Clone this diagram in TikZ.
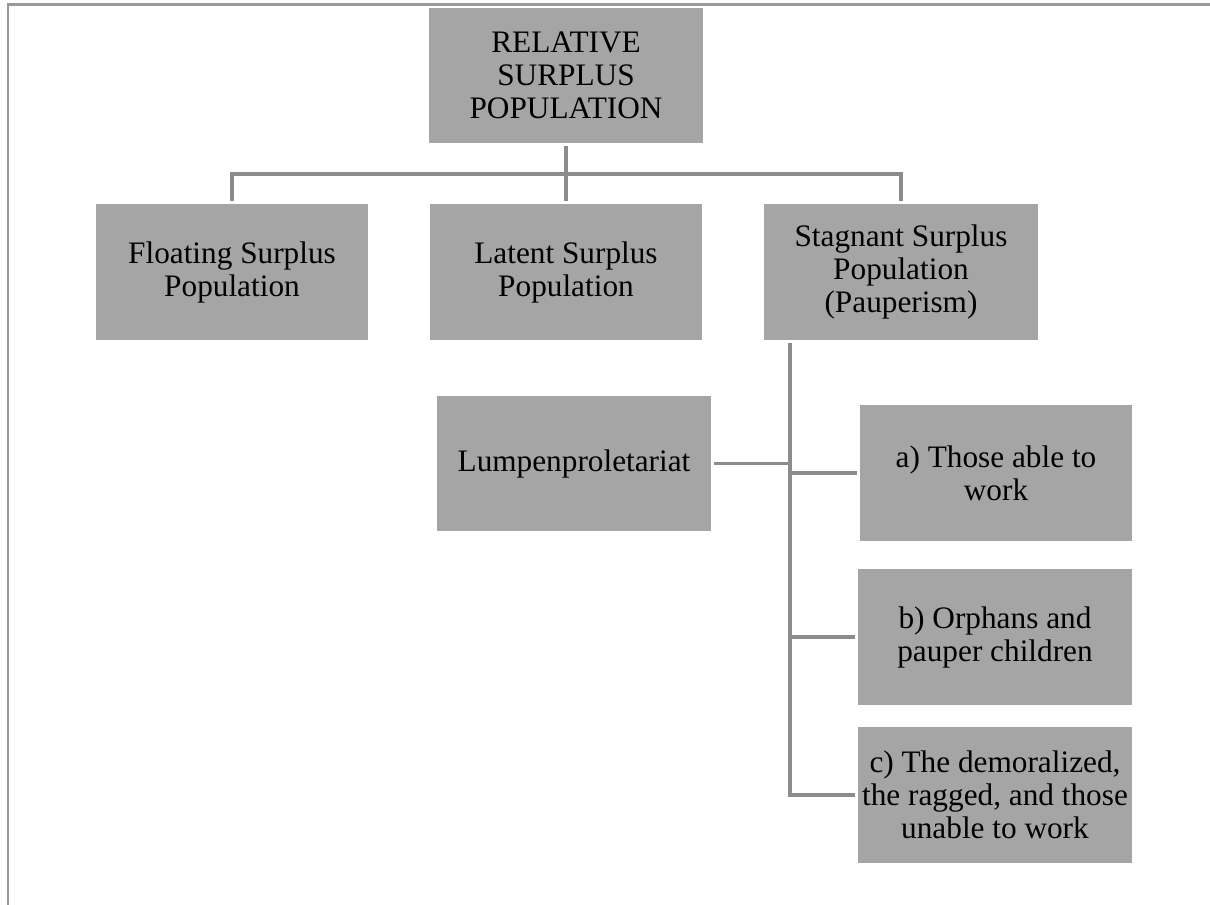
\documentclass[tikz,border=0pt]{standalone}
\usepackage{fontspec}
\setmainfont{Liberation Serif}
\usetikzlibrary{calc}
\definecolor{boxgray}{HTML}{A5A5A5}
\definecolor{linegray}{HTML}{8C8C8C}
\definecolor{framegray}{HTML}{999999}

\begin{document}
\begin{tikzpicture}[x=0.02cm, y=-0.02cm,
  box/.style={fill=boxgray, draw=none, minimum width=5.46cm, minimum height=2.72cm,
    align=center, inner sep=2pt, outer sep=0.06cm,
    font=\fontsize{17.8}{18.8}\selectfont},
  link/.style={draw=linegray, line width=1.9pt}]
  \useasboundingbox (0,0) rectangle (1210,905);
  % frame
  \draw[framegray, line width=1.6pt] (8,905) -- (8,4.5) -- (1210,4.5);
  % top
  \node[box, minimum width=5.48cm, minimum height=2.7cm] (rsp) at (566,75.5)
    {RELATIVE\\SURPLUS\\POPULATION};
  % three forms
  \node[box] (floating) at (232,272) {Floating Surplus\\Population};
  \node[box] (latent) at (566,272) {Latent Surplus\\Population};
  \node[box, minimum width=5.48cm] (stagnant) at (901,272)
    {Stagnant Surplus\\Population\\(Pauperism)};
  \draw[link] (rsp.south) -- ++(0,28) -| (floating.north);
  \draw[link] (rsp.south) -- ++(0,28) -| (stagnant.north);
  \draw[link] (rsp.south) -- (latent.north);
  % pauperism
  \node[box, minimum width=5.48cm, minimum height=2.7cm] (lumpen) at (574,463.5)
    {Lumpenproletariat};
  \node[box, minimum width=5.44cm] (able) at (996,473) {a) Those able to\\work};
  \node[box, minimum width=5.48cm] (orphans) at (995,637)
    {b) Orphans and\\pauper children};
  \node[box, minimum width=5.48cm] (demor) at (995,795)
    {c) The demoralized,\\the ragged, and those\\unable to work};
  \coordinate (spine) at (790,343);
  \draw[link] (spine) |- (demor.west);
  \draw[link] (spine |- able.west) -- (able.west);
  \draw[link] (spine |- orphans.west) -- (orphans.west);
  \draw[link] (lumpen.east) -- (lumpen.east -| spine);
\end{tikzpicture}
\end{document}
